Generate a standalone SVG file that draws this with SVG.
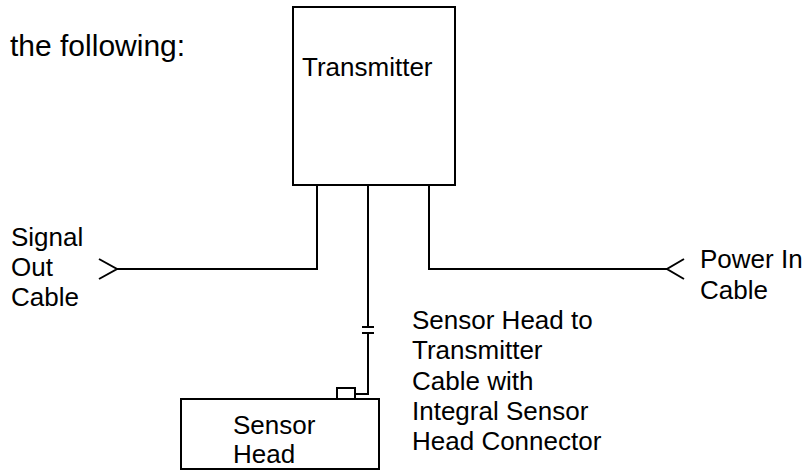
<svg xmlns="http://www.w3.org/2000/svg" width="806" height="471" viewBox="0 0 806 471">
<style>
.box{fill:#fff;stroke:#000;stroke-width:2}
.ln{fill:none;stroke:#000;stroke-width:2}
text{font-family:"Liberation Sans",Arial,sans-serif;font-size:26px;fill:#000}
.h{font-size:30px}
</style>
<rect width="806" height="471" fill="#fff"/>
<text class="h" x="10" y="56">the following:</text>
<g id="transmitter">
<rect class="box" x="293" y="7" width="162" height="178"/>
<text x="302" y="76">Transmitter</text>
</g>
<g id="sensor-head">
<rect class="box" x="181" y="399" width="198" height="70"/>
<rect class="box" x="337" y="388" width="18" height="11"/>
<text x="233" y="434">Sensor</text>
<text x="233" y="463">Head</text>
</g>
<g id="signal-out">
<text x="11" y="246">Signal</text>
<text x="11" y="276">Out</text>
<text x="11" y="306">Cable</text>
</g>
<g id="power-in">
<text x="700" y="268">Power In</text>
<text x="700" y="299">Cable</text>
</g>
<g id="cable-label">
<text x="412" y="329">Sensor Head to</text>
<text x="412" y="359">Transmitter</text>
<text x="412" y="390">Cable with</text>
<text x="412" y="420">Integral Sensor</text>
<text x="412" y="450">Head Connector</text>
</g>
<g id="connectors">
<polyline class="ln" points="317,185 317,269 117,269"/>
<polyline class="ln" points="99,259 117,269 99,279"/>
<polyline class="ln" points="429,185 429,269 667,269"/>
<polyline class="ln" points="684,259 667,269 684,279"/>
<polyline class="ln" points="368,185 368,327"/>
<line class="ln" x1="362" y1="327" x2="374" y2="327"/>
<line class="ln" x1="362" y1="333" x2="374" y2="333"/>
<polyline class="ln" points="368,333 368,394 355,394"/>
</g>
</svg>
